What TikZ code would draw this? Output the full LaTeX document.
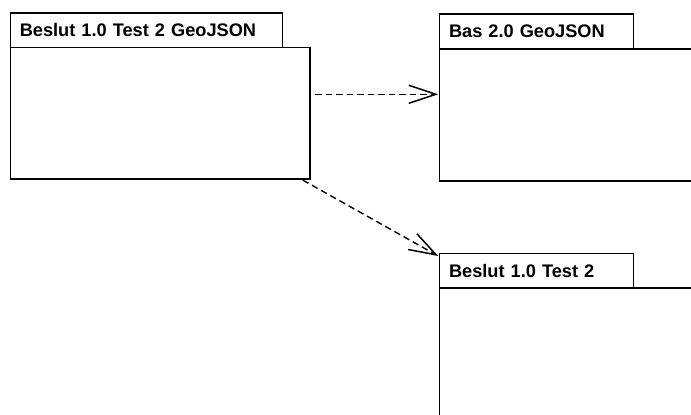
\documentclass[tikz,border=0pt]{standalone}
\usepackage{fontspec}
\setmainfont{Liberation Sans}
\usetikzlibrary{arrows.meta,calc}
\begin{document}
\begin{tikzpicture}[x=1pt,y=-1pt,
  pkgline/.style={draw=black,line width=1.6pt},
  pkgtab/.style={pkgline,anchor=north west,minimum height=34.5pt,inner xsep=9.5pt,inner ysep=0pt,
    align=left,font=\bfseries\fontsize{18.2pt}{20pt}\selectfont},
  pkgbody/.style={pkgline,anchor=north west,inner sep=0pt},
  dep/.style={draw=black,line width=1.4pt,dash pattern=on 6.5pt off 4pt,
    -{Straight Barb[length=27pt,width=18pt,line width=1.5pt]}}]
\useasboundingbox (0,0) rectangle (691,415);
\clip (0,0) rectangle (691,415);
\fill[white] (0,0) rectangle (691,415);
% package 1
\node[pkgbody,minimum width=299.5pt,minimum height=131.5pt] (b1) at (9.5,46.5) {};
\node[pkgtab,text width=253pt] (t1) at (9.5,12) {Beslut 1.0 Test 2 GeoJSON};
% package 2
\node[pkgbody,minimum width=300pt,minimum height=131.7pt] (b2) at (438.7,48.3) {};
\node[pkgtab,text width=175pt,minimum height=35pt] (t2) at (438.7,13.3) {Bas 2.0 GeoJSON};
% package 3
\node[pkgbody,minimum width=300pt,minimum height=200pt] (b3) at (438.7,287.3) {};
\node[pkgtab,text width=175pt,minimum height=34.6pt] (t3) at (438.7,252.7) {Beslut 1.0 Test 2};
% dependencies
\draw[dep] ($(b1.north east)+(4.5,47.8)$) -- ($(b2.north west)+(-0.5,46)$);
\draw[dep] ($(b1.south east)+(-7.8,0.5)$) -- ($(t3.north west)+(-0.5,3.3)$);
\end{tikzpicture}
\end{document}
